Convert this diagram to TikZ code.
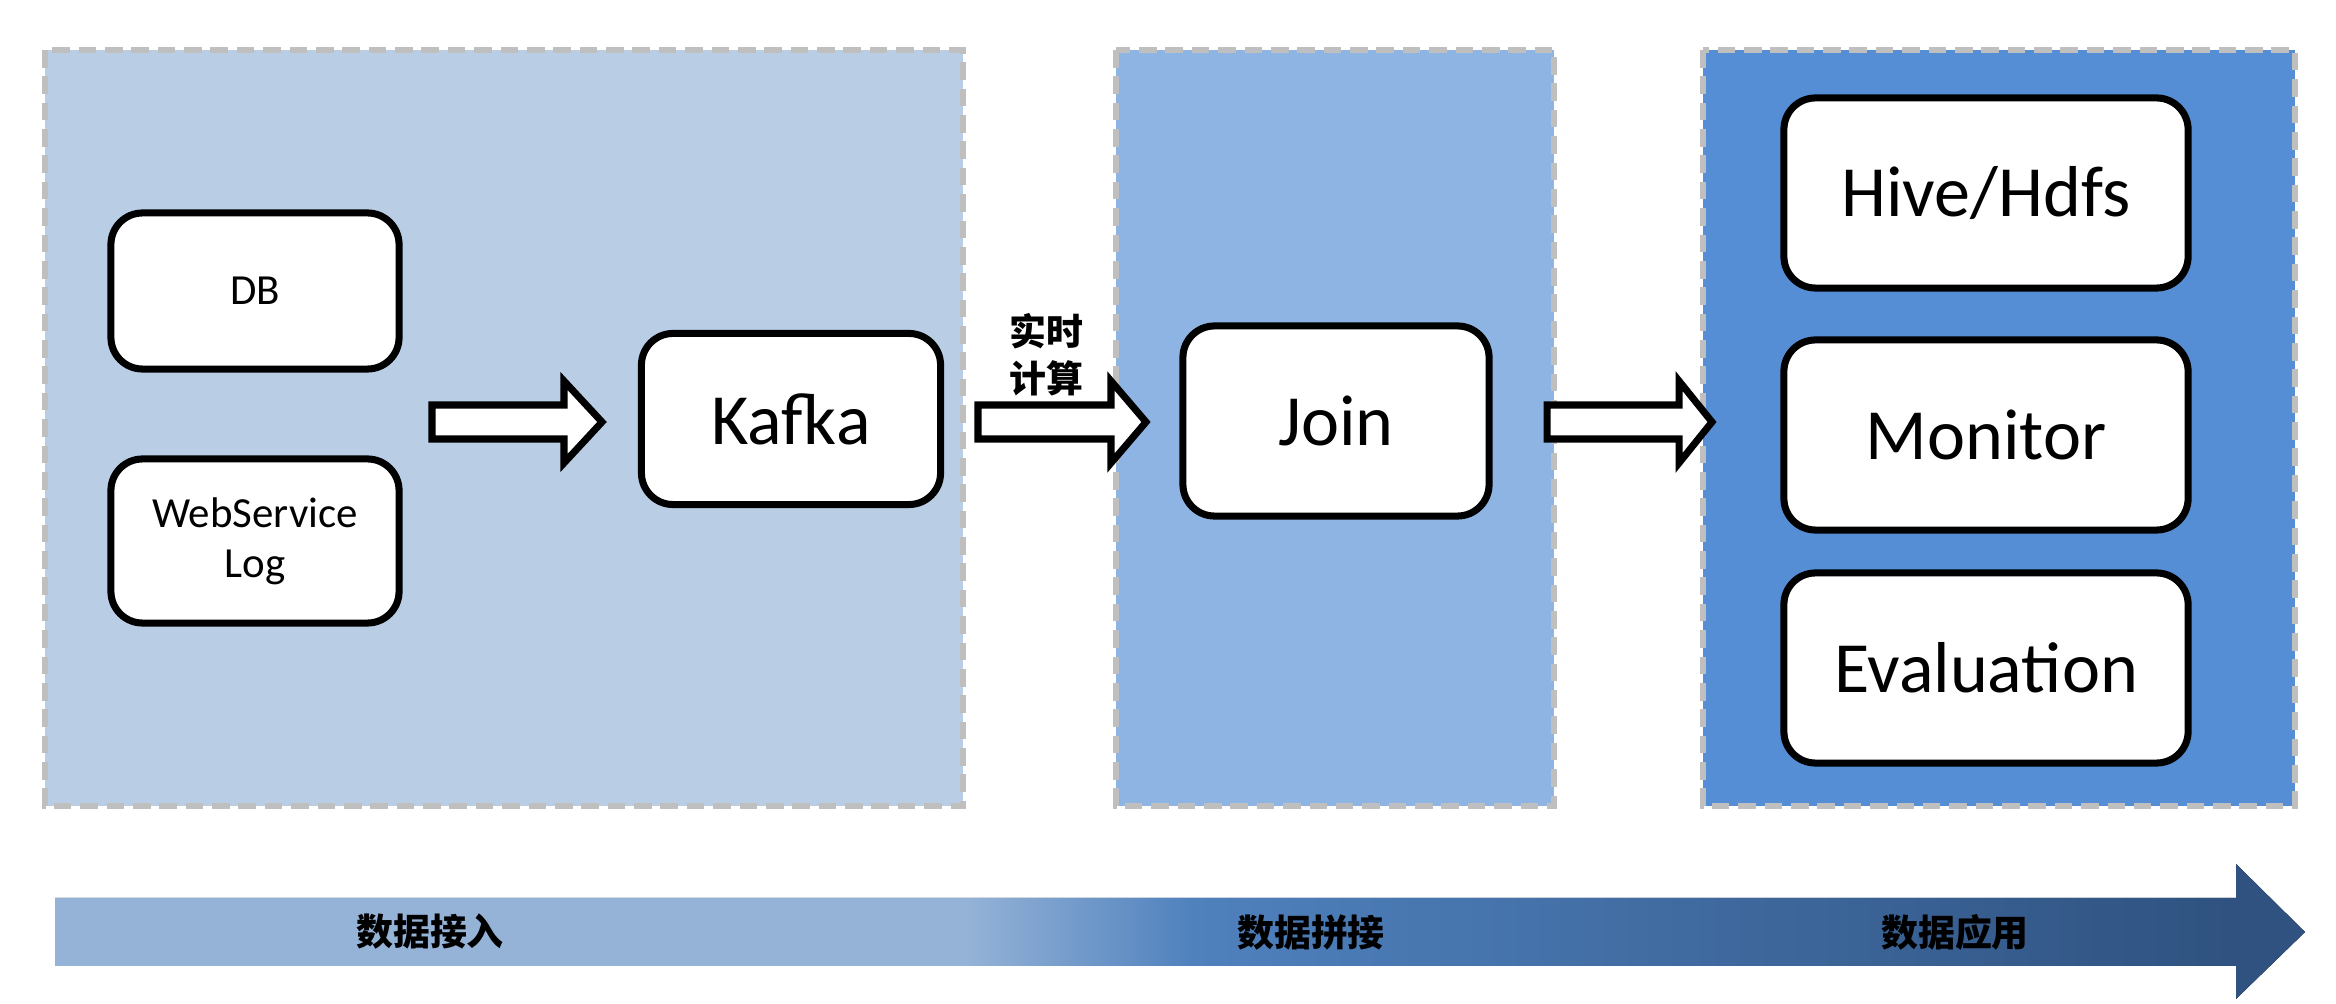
\documentclass[tikz,border=0pt]{standalone}
\usepackage{fontspec}
\setmainfont{Carlito}
\newfontfamily\cjk{Noto Sans CJK SC}

\definecolor{inpanel}{RGB}{185,205,229}
\definecolor{joinpanel}{RGB}{142,180,227}
\definecolor{apppanel}{RGB}{85,142,213}
\definecolor{panelline}{RGB}{191,191,191}
\definecolor{flowlight}{RGB}{149,179,215}
\definecolor{flowmid}{RGB}{79,129,189}
\definecolor{flowdark}{RGB}{47,82,128}
\pgfdeclarehorizontalshading{flowshade}{100bp}{color(0bp)=(flowlight); color(45.2bp)=(flowlight); color(50.3bp)=(flowmid); color(73.5bp)=(flowdark); color(100bp)=(flowdark)}

\begin{document}
\begin{tikzpicture}[x=0.01cm, y=-0.01cm,
    panel/.style={draw=panelline, line width=1.7pt, dash pattern=on 5pt off 2.5pt},
    box/.style={draw, fill=white, line width=2pt, rounded corners=9pt, align=center},
    smallbox/.style={box, font=\fontsize{12.2}{14.2}\selectfont},
    bigbox/.style={box, font=\fontsize{20.5}{24}\selectfont},
    blockarrow/.style={draw, fill=white, line width=2pt, line join=miter},
    cjklabel/.style={font=\cjk\bfseries\fontsize{10.5}{13.4}\selectfont, align=center}]
      \useasboundingbox (0,0) rectangle (2336,1004);

      % Draw the three stage panels
      \draw[panel, fill=inpanel] (45,50) rectangle (963,806);
      \draw[panel, fill=joinpanel] (1116,50) rectangle (1554,806);
      \draw[panel, fill=apppanel] (1703,50) rectangle (2295,806);

      % Sources
      \node[smallbox, minimum width=2.88cm, minimum height=1.56cm] (db) at (255,291) {DB};
      \node[smallbox, minimum width=2.88cm, minimum height=1.64cm] (wslog) at (255,541) {WebService\\Log};

      % Kafka and Join
      \node[bigbox, minimum width=2.99cm, minimum height=1.71cm] (kafka) at (791,419) {Kafka};
      \node[bigbox, minimum width=3.06cm, minimum height=1.90cm] (join) at (1336,421) {Join};

      % Applications
      \foreach \name/\txt/\y in {hive/{Hive/Hdfs}/193, monitor/Monitor/435, eval/Evaluation/668} {
        \node[bigbox, minimum width=4.04cm, minimum height=1.90cm] (\name) at (1986,\y) {\txt};
      }

      % Draw the hollow arrows
      \foreach \s/\b/\t in {432/564/602, 978/1111/1146, 1547/1679/1712} {
        \draw[blockarrow] (\s,405) -- (\b,405) -- (\b,381) -- (\t,422) --
        (\b,463) -- (\b,439) -- (\s,439) -- cycle;
      }
      \node[cjklabel] (realtime) at (1046,355) {实时\\计算};

      % Draw the stage arrow at the bottom
      \fill[shading=flowshade] (55,898) -- (2236,898) -- (2236,864) -- (2305,932) --
      (2236,999) -- (2236,966) -- (55,966) -- cycle;
      \foreach \name/\txt/\x in {ingest/数据接入/430, joining/数据拼接/1311, apply/数据应用/1955} {
        \node[cjklabel] (\name) at (\x,932) {\txt};
      }
    \end{tikzpicture}
\end{document}
